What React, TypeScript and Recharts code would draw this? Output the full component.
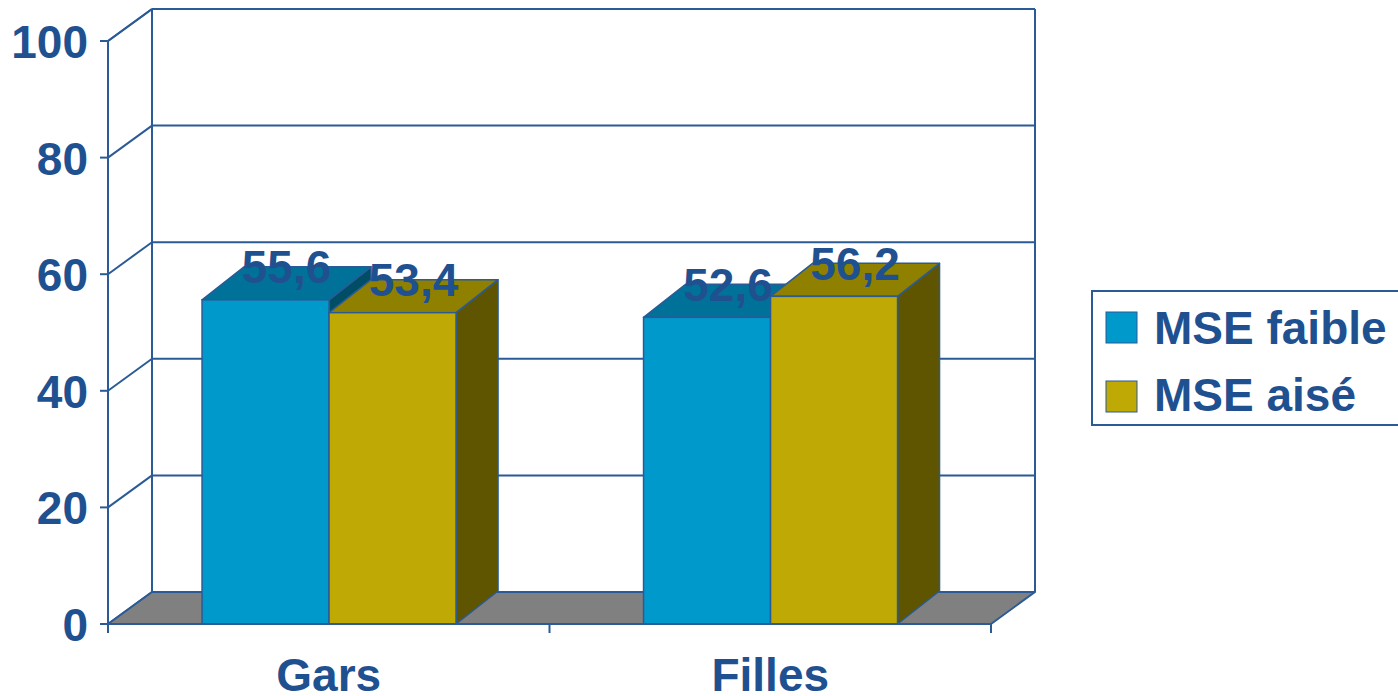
import React from 'react';
import {
  ComposedChart,
  Bar,
  XAxis,
  YAxis,
  CartesianGrid,
  ReferenceArea,
  LabelList,
  Legend,
} from 'recharts';

const categories = ['Gars', 'Filles'];
const mseFaible = [55.6, 52.6];
const mseAise = [53.4, 56.2];
const seriesNames = ['MSE faible', 'MSE aisé'];
const yTicks = [0, 20, 40, 60, 80, 100];

const data = categories.map((c, i) => ({ cat: c, faible: mseFaible[i], aise: mseAise[i] }));

const FONT = "'Liberation Sans', Arial, Helvetica, sans-serif";
const TEXT = '#1F5190';
const LINE = '#2A5B96';
const BLUE = { front: '#0099CC', top: '#00729A', side: '#004D66' };
const GOLD = { front: '#BEA905', top: '#8F8000', side: '#5F5400' };
const FLOOR = '#808080';

const WDX = 44;
const WDY = 32;
const BDX = 42;
const BDY = 33;

const makeShape = (c: { front: string; top: string; side: string }) => (props: any) => {
  const { x, y, width: w, height: h } = props;
  if (w == null || h == null) return null;
  const top = `${x},${y} ${x + w},${y} ${x + w + BDX},${y - BDY} ${x + BDX},${y - BDY}`;
  const side = `${x + w},${y} ${x + w + BDX},${y - BDY} ${x + w + BDX},${y + h - BDY} ${x + w},${y + h}`;
  return (
    <g>
      <polygon points={side} fill={c.side} stroke={LINE} strokeWidth={1.5} strokeLinejoin="round" />
      <polygon points={top} fill={c.top} stroke={LINE} strokeWidth={1.5} strokeLinejoin="round" />
      <rect x={x} y={y} width={w} height={h} fill={c.front} stroke={LINE} strokeWidth={1.5} />
    </g>
  );
};

const labelContent = (props: any) => {
  const { x, y, width, value } = props;
  return (
    <text
      x={x + width / 2 + BDX / 2}
      y={y - BDY / 2}
      textAnchor="middle"
      fontFamily={FONT}
      fontWeight="bold"
      fontSize={46}
      fill={TEXT}
    >
      {String(value).replace('.', ',')}
    </text>
  );
};

const gridLine = (p: any) => {
  const { x1, x2, y1, index } = p;
  return (
    <g key={`gl-${index}`}>
      <line x1={x1} y1={y1} x2={x1 + WDX} y2={y1 - WDY} stroke={LINE} strokeWidth={2} />
      <line x1={x1 + WDX} y1={y1 - WDY} x2={x2 + WDX} y2={y1 - WDY} stroke={LINE} strokeWidth={2} />
    </g>
  );
};

const wallShape = (p: any) => {
  const { x, y, width: w, height: h } = p;
  const b = y + h;
  const floor = `${x},${b} ${x + w},${b} ${x + w + WDX},${b - WDY} ${x + WDX},${b - WDY}`;
  return (
    <g>
      <polygon points={floor} fill={FLOOR} stroke={LINE} strokeWidth={2} strokeLinejoin="round" />
      <line x1={x + WDX} y1={y - WDY} x2={x + WDX} y2={b - WDY} stroke={LINE} strokeWidth={2} />
      <line x1={x + w + WDX} y1={y - WDY} x2={x + w + WDX} y2={b - WDY} stroke={LINE} strokeWidth={2} />
      <line x1={x + WDX} y1={y - WDY} x2={x + w + WDX} y2={y - WDY} stroke={LINE} strokeWidth={2} />
      <line x1={x} y1={y} x2={x + WDX} y2={y - WDY} stroke={LINE} strokeWidth={2} />
    </g>
  );
};

const YTick = (p: any) => {
  const { x, y, payload } = p;
  return (
    <g>
      <line x1={x - 8} y1={y} x2={x} y2={y} stroke={LINE} strokeWidth={2} />
      <text x={x - 20} y={y + 17} textAnchor="end" fontFamily={FONT} fontWeight="bold" fontSize={46} fill={TEXT}>
        {payload.value}
      </text>
    </g>
  );
};

const XTick = (p: any) => {
  const { x, y, payload, index } = p;
  const off = payload && typeof payload.offset === 'number' ? payload.offset : 0;
  const last = index === categories.length - 1;
  return (
    <g>
      {off > 0 && <line x1={x - off} y1={y} x2={x - off} y2={y + 9} stroke={LINE} strokeWidth={2} />}
      {off > 0 && last && <line x1={x + off} y1={y} x2={x + off} y2={y + 9} stroke={LINE} strokeWidth={2} />}
      <text x={x} y={y + 67} textAnchor="middle" fontFamily={FONT} fontWeight="bold" fontSize={46} fill={TEXT}>
        {payload.value}
      </text>
    </g>
  );
};

const LegendBox = () => {
  const items = [
    { name: seriesNames[0], color: BLUE.front },
    { name: seriesNames[1], color: GOLD.front },
  ];
  return (
    <svg width={307} height={137} style={{ display: 'block' }}>
      <rect x={1} y={1} width={400} height={134} fill="#fff" stroke={LINE} strokeWidth={2} />
      {items.map((it, i) => (
        <g key={it.name}>
          <rect x={15} y={22 + i * 69} width={31} height={31} fill={it.color} stroke={LINE} strokeWidth={1} />
          <text x={63} y={54 + i * 67} fontFamily={FONT} fontWeight="bold" fontSize={46} fill={TEXT}>
            {it.name}
          </text>
        </g>
      ))}
    </svg>
  );
};

export default function App() {
  return (
    <div style={{ position: 'absolute', left: 0, top: 0, width: 1398, height: 696, background: '#fff' }}>
      <ComposedChart
        width={1398}
        height={696}
        data={data}
        margin={{ top: 41, right: 407, bottom: 71, left: 107 }}
        barCategoryGap="21.3%"
        barGap={0}
      >
        <CartesianGrid horizontal={gridLine} vertical={false} />
        <ReferenceArea y1={0} y2={100} shape={wallShape} ifOverflow="visible" />
        <XAxis
          dataKey="cat"
          height={1}
          tickSize={0}
          tickMargin={0}
          tickLine={false}
          axisLine={{ stroke: LINE, strokeWidth: 2 }}
          tick={<XTick />}
          interval={0}
        />
        <YAxis
          width={1}
          domain={[0, 100]}
          ticks={yTicks}
          tickSize={0}
          tickMargin={0}
          tickLine={false}
          axisLine={{ stroke: LINE, strokeWidth: 2 }}
          tick={<YTick />}
          interval={0}
        />
        <Bar dataKey="faible" name={seriesNames[0]} shape={makeShape(BLUE)} isAnimationActive={false}>
          <LabelList dataKey="faible" content={labelContent} />
        </Bar>
        <Bar dataKey="aise" name={seriesNames[1]} shape={makeShape(GOLD)} isAnimationActive={false}>
          <LabelList dataKey="aise" content={labelContent} />
        </Bar>
        <Legend
          layout="horizontal"
          verticalAlign="middle"
          align="center"
          content={<LegendBox />}
          wrapperStyle={{ position: 'absolute', left: 1091, top: 290, width: 307, height: 137 }}
        />
      </ComposedChart>
    </div>
  );
}
